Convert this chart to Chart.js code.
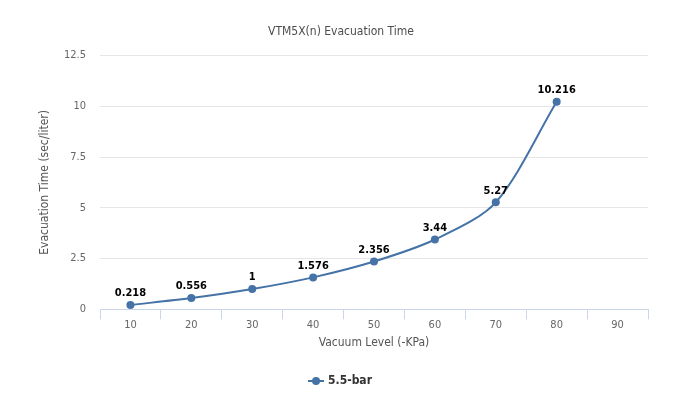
<!DOCTYPE html>
<html>
<head>
<meta charset="utf-8">
<script src="https://cdn.jsdelivr.net/npm/chart.js@4"></script>
<style>
html,body{margin:0;padding:0;background:#fff;}
#wrap{width:682px;height:419px;position:relative;}
</style>
</head>
<body>
<div id="wrap"><canvas id="c" width="682" height="419"></canvas></div>
<script>
const categories = ['10','20','30','40','50','60','70','80','90'];
const seriesName = '5.5-bar';
const seriesValues = [0.218, 0.556, 1, 1.576, 2.356, 3.44, 5.27, 10.216, null];
const yTicks = [0, 2.5, 5, 7.5, 10, 12.5];
const chartTitle = 'VTM5X(n) Evacuation Time';
const xTitle = 'Vacuum Level (-KPa)';
const yTitle = 'Evacuation Time (sec/liter)';

const FONT = '"DejaVu Sans Condensed", "Liberation Sans Narrow", sans-serif';
const LINE = '#4572A7';

function legendIcon(){
  const cv = document.createElement('canvas');
  cv.width = 16; cv.height = 10;
  const g = cv.getContext('2d');
  g.strokeStyle = LINE; g.lineWidth = 2;
  g.beginPath(); g.moveTo(0,5); g.lineTo(16,5); g.stroke();
  g.fillStyle = LINE; g.beginPath(); g.arc(8,5,4,0,Math.PI*2); g.fill();
  return cv;
}
const icon = legendIcon();

const labelPlugin = {
  id: 'pointLabels',
  afterDatasetsDraw(chart){
    const ctx = chart.ctx;
    const meta = chart.getDatasetMeta(0);
    ctx.save();
    ctx.font = 'bold 11px ' + FONT;
    ctx.fillStyle = '#000';
    ctx.textAlign = 'center';
    ctx.textBaseline = 'bottom';
    meta.data.forEach((pt, i) => {
      const v = seriesValues[i];
      if (v === null || v === undefined) return;
      ctx.fillText(String(v), pt.x, pt.y - 6);
    });
    ctx.restore();
  }
};

new Chart(document.getElementById('c'), {
  type: 'line',
  data: {
    labels: categories,
    datasets: [{
      label: seriesName,
      data: seriesValues,
      borderColor: LINE,
      backgroundColor: LINE,
      borderWidth: 2,
      pointRadius: 4,
      pointHoverRadius: 4,
      pointBackgroundColor: LINE,
      pointBorderWidth: 0,
      tension: 0.3,
      fill: false
    }]
  },
  options: {
    responsive: false,
    animation: false,
    layout: { padding: { left: 34, right: 34, top: 0, bottom: 22 } },
    plugins: {
      title: {
        display: true,
        text: chartTitle,
        color: '#4d4d4d',
        font: { family: FONT, size: 12, weight: 'normal' },
        padding: { top: 25, bottom: 16 }
      },
      legend: {
        position: 'bottom',
        labels: {
          color: '#333',
          font: { family: FONT, size: 12, weight: 'bold' },
          usePointStyle: true,
          generateLabels(chart){
            return [{ text: seriesName, pointStyle: icon, fillStyle: LINE, strokeStyle: LINE, lineWidth: 0, datasetIndex: 0, hidden: false, fontColor: '#333' }];
          }
        }
      },
      tooltip: { enabled: false }
    },
    scales: {
      x: {
        type: 'category',
        offset: true,
        grid: { offset: true, drawOnChartArea: false, drawTicks: true, tickLength: 10, color: '#ccd6eb', tickColor: '#ccd6eb' },
        border: { color: '#ccd6eb', width: 1 },
        ticks: { color: '#666', font: { family: FONT, size: 11 }, padding: -1, maxRotation: 0 },
        title: { display: true, text: xTitle, color: '#555', font: { family: FONT, size: 12 }, padding: { top: 5, bottom: 15 } }
      },
      y: {
        min: 0, max: 12.5,
        afterBuildTicks(scale){ scale.ticks = yTicks.map(v => ({ value: v })); },
        afterFit(scale){ scale.width = 66; },
        grid: { color: '#e6e6e6', drawTicks: false },
        border: { display: false },
        ticks: { color: '#666', font: { family: FONT, size: 11 }, padding: 14, callback: v => String(v) },
        title: { display: true, text: yTitle, color: '#555', font: { family: FONT, size: 12 }, padding: { top: 4, bottom: 0 } }
      }
    }
  },
  plugins: [labelPlugin]
});
</script>
</body>
</html>
